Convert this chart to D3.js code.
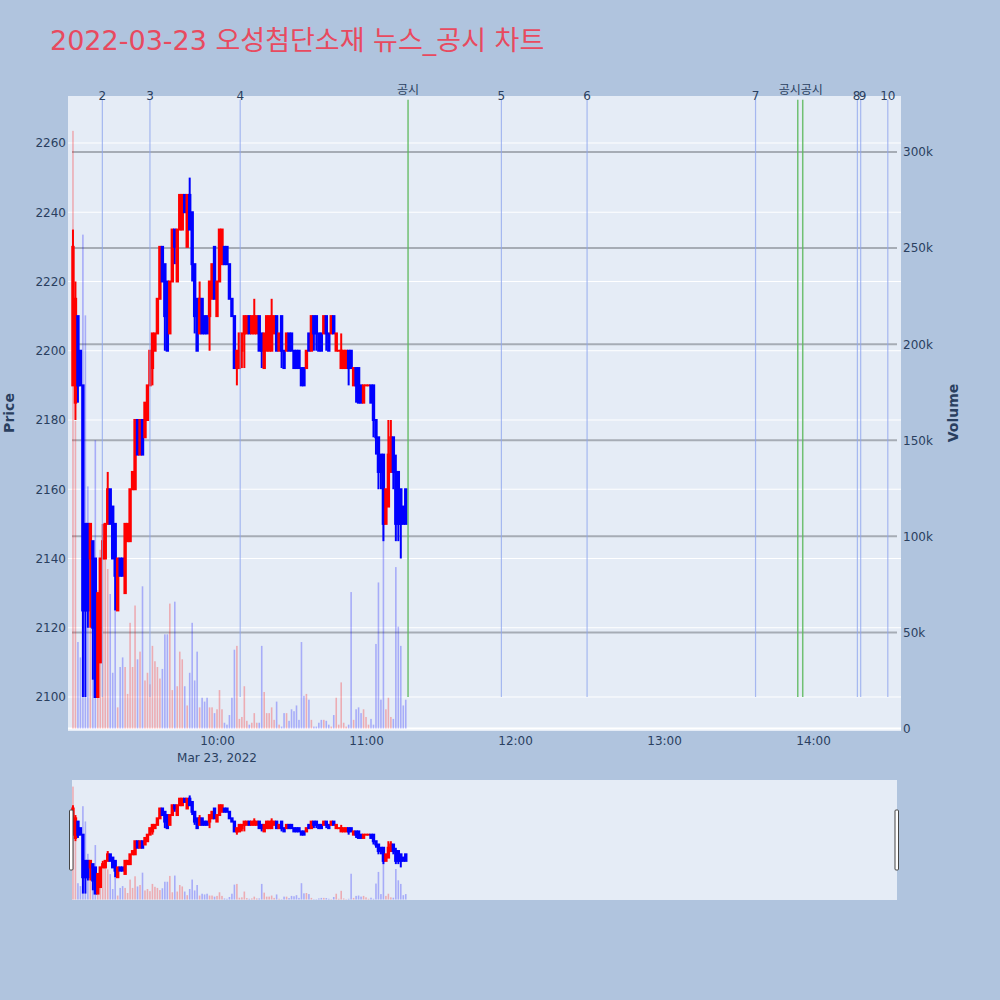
<!DOCTYPE html>
<html><head><meta charset="utf-8">
<script src="https://cdn.jsdelivr.net/npm/d3@7"></script>
<style>
body{margin:0;background:#b0c4de;}
svg{display:block;font-family:"DejaVu Sans","Noto Sans CJK KR",sans-serif;}
</style>
</head><body>
<svg id="c" width="1000" height="1000"></svg>
<script>
const times = ["09:02","09:03","09:04","09:05","09:06","09:07","09:08","09:09","09:10","09:11",
"09:12","09:13","09:14","09:15","09:16","09:17","09:18","09:19","09:20","09:21",
"09:22","09:23","09:24","09:25","09:26","09:27","09:28","09:29","09:30","09:31",
"09:32","09:33","09:34","09:35","09:36","09:37","09:38","09:39","09:40","09:41",
"09:42","09:43","09:44","09:45","09:46","09:47","09:48","09:49","09:50","09:51",
"09:52","09:53","09:54","09:55","09:56","09:57","09:58","09:59","10:00","10:01",
"10:02","10:03","10:04","10:05","10:06","10:07","10:08","10:09","10:10","10:11",
"10:12","10:13","10:14","10:15","10:16","10:17","10:18","10:19","10:20","10:21",
"10:22","10:23","10:24","10:25","10:26","10:27","10:28","10:29","10:30","10:31",
"10:32","10:33","10:34","10:35","10:36","10:37","10:38","10:39","10:40","10:41",
"10:42","10:43","10:44","10:45","10:46","10:47","10:48","10:49","10:50","10:51",
"10:52","10:53","10:54","10:55","10:56","10:57","10:58","10:59","11:00","11:01",
"11:02","11:03","11:04","11:05","11:06","11:07","11:08","11:09","11:10","11:11",
"11:12","11:13","11:14","11:15","11:16"];
const open = [2190,2185,2210,2200,2190,2150,2150,2140,2145,2140,
2100,2110,2140,2140,2150,2160,2155,2150,2125,2140,
2140,2130,2145,2145,2160,2160,2180,2170,2180,2175,
2180,2190,2195,2200,2205,2215,2230,2225,2220,2205,
2220,2235,2220,2235,2235,2245,2230,2245,2240,2225,
2215,2205,2215,2210,2210,2210,2215,2230,2210,2220,
2225,2230,2230,2225,2215,2210,2195,2195,2200,2205,
2205,2210,2205,2205,2205,2210,2205,2195,2200,2200,
2200,2205,2210,2200,2210,2200,2200,2205,2205,2200,
2200,2200,2195,2195,2195,2205,2200,2210,2210,2205,
2205,2205,2210,2205,2205,2210,2200,2200,2195,2195,
2195,2200,2200,2190,2195,2195,2190,2185,2190,2190,
2190,2190,2180,2175,2170,2170,2150,2155,2165,2175,
2165,2165,2160,2155,2160];
const high = [2235,2220,2210,2200,2190,2150,2150,2150,2145,2140,
2130,2140,2150,2150,2165,2160,2155,2150,2140,2140,
2140,2150,2150,2160,2165,2180,2180,2180,2180,2185,
2190,2200,2205,2205,2215,2230,2230,2225,2220,2220,
2235,2235,2235,2245,2245,2245,2245,2250,2240,2225,
2215,2220,2215,2210,2210,2220,2225,2230,2220,2235,
2235,2230,2230,2225,2215,2210,2200,2205,2205,2210,
2210,2210,2210,2215,2210,2210,2205,2205,2210,2210,
2215,2210,2210,2205,2210,2200,2205,2205,2205,2200,
2200,2200,2195,2195,2200,2205,2210,2210,2210,2205,
2205,2210,2210,2205,2210,2210,2205,2200,2205,2200,
2200,2200,2200,2195,2195,2195,2190,2190,2190,2190,
2190,2190,2180,2175,2170,2170,2160,2180,2180,2175,
2170,2165,2160,2155,2160];
const low = [2190,2180,2185,2190,2100,2100,2120,2120,2105,2100,
2100,2110,2140,2140,2150,2150,2140,2125,2125,2135,
2135,2130,2145,2145,2160,2160,2170,2170,2170,2175,
2180,2190,2190,2200,2205,2215,2220,2200,2200,2205,
2220,2225,2220,2235,2235,2240,2230,2235,2220,2205,
2200,2205,2205,2205,2205,2200,2215,2215,2210,2220,
2225,2225,2225,2215,2210,2195,2190,2195,2195,2195,
2205,2205,2205,2205,2205,2200,2195,2195,2200,2200,
2200,2205,2200,2200,2195,2195,2200,2200,2200,2195,
2195,2195,2190,2190,2195,2200,2200,2200,2200,2200,
2200,2205,2200,2200,2205,2205,2200,2200,2195,2195,
2195,2190,2195,2190,2185,2185,2185,2185,2190,2190,
2185,2175,2170,2160,2160,2145,2150,2155,2165,2160,
2145,2145,2140,2150,2150];
const close = [2230,2215,2190,2190,2125,2125,2125,2150,2120,2100,
2130,2140,2145,2150,2160,2150,2140,2135,2140,2135,
2135,2150,2150,2160,2165,2180,2170,2180,2170,2185,
2190,2200,2205,2205,2215,2230,2220,2210,2200,2220,
2235,2230,2235,2245,2245,2240,2245,2235,2225,2210,
2200,2215,2205,2205,2205,2220,2225,2215,2220,2235,
2235,2225,2225,2215,2210,2195,2200,2205,2205,2210,
2210,2205,2210,2210,2210,2200,2200,2205,2210,2210,
2210,2210,2200,2205,2200,2195,2205,2200,2200,2195,
2195,2195,2190,2190,2200,2200,2210,2205,2205,2200,
2200,2210,2205,2200,2210,2205,2205,2200,2200,2200,
2200,2195,2195,2195,2190,2185,2185,2190,2190,2190,
2185,2180,2175,2165,2165,2150,2160,2170,2175,2165,
2150,2150,2150,2150,2150];
const volume = [311000,160000,45000,37000,257000,215000,126000,106000,97000,150000,
72000,93000,89000,106000,83000,70000,29000,98000,11000,32000,
37000,32000,18000,55000,32000,64000,36000,40000,74000,25000,
29000,23000,43000,35000,32000,26000,31000,49000,49000,65000,
20000,66000,22000,40000,36000,22000,12000,29000,55000,25000,
40000,11000,16000,14000,16000,11000,11000,8000,10000,20000,
10000,3000,2000,7000,16000,41000,43000,5000,6000,22000,
4000,2000,3000,8000,3000,3000,43000,19000,8000,8000,
11000,4500,14000,2000,1000,8000,8000,4000,10000,9000,
12000,4500,45000,17000,18000,15000,4500,1000,1000,3000,
4500,4500,4000,2000,1000,7000,16000,2000,24000,3000,
1000,2000,71000,4500,10000,11000,8000,10000,6000,2000,
5000,2000,44000,76000,15000,130000,10000,16000,6000,5000,
84000,53000,43000,12000,15000];

const priceTicks = [2100,2120,2140,2160,2180,2200,2220,2240,2260];
const volumeTicks = [0,50000,100000,150000,200000,250000,300000];
const volumeTickLabels = ["0","50k","100k","150k","200k","250k","300k"];
const timeTicks = ["10:00","11:00","12:00","13:00","14:00"];
const newsTimes = ["09:13:50","09:33:00","10:09:20","11:16:55","11:54:30","12:29:00","13:36:50","13:53:50","13:55:50","14:17:50","14:19:10","14:30:05"];
const newsLabels = ["2","3","4","공시","5","6","7","공시","공시","8","9","10"];
const newsKinds = ["news","news","news","disc","news","news","news","disc","disc","news","news","news"];
const titleText = "2022-03-23 오성첨단소재 뉴스_공시 차트";

const day = "2022-03-23 ";
const pm = d3.timeParse("%Y-%m-%d %H:%M");
const ps = d3.timeParse("%Y-%m-%d %H:%M:%S");
const data = times.map((t,i)=>({t:pm(day+t),o:open[i],h:high[i],l:low[i],c:close[i],v:volume[i]}));

const svg = d3.select("#c");
const L=68,R=901,T=96,B=731;
const x = d3.scaleTime().domain([ps(day+"09:00:00"), ps(day+"14:35:24")]).range([L,R]);
const yP = d3.scaleLinear().domain([2090.18,2273.57]).range([B,T]);
const yV = d3.scaleLinear().domain([-1301,329140]).range([B,T]);

const RED="#ff0000", BLUE="#0000ff", TXT="#2a3f5f";
const FONT="'DejaVu Sans','Noto Sans CJK KR',sans-serif";

// title
svg.append("text").attr("x",50).attr("y",50).attr("font-size",27).attr("fill","#e84a5f")
  .attr("font-family",FONT).text(titleText);

// plot bg
svg.append("rect").attr("x",L).attr("y",T).attr("width",R-L).attr("height",B-T).attr("fill","#e5ecf6");

// price grid (white)
svg.append("g").selectAll("line").data(priceTicks).join("line")
  .attr("x1",L).attr("x2",R).attr("y1",d=>yP(d)).attr("y2",d=>yP(d))
  .attr("stroke","#fff").attr("stroke-width",1);
// volume zero line
svg.append("line").attr("x1",L).attr("x2",R).attr("y1",yV(0)).attr("y2",yV(0)).attr("stroke","#fff").attr("stroke-width",2);
// volume grid (gray)
svg.append("g").selectAll("line").data(volumeTicks.filter(d=>d>0)).join("line")
  .attr("x1",72).attr("x2",897).attr("y1",d=>yV(d)).attr("y2",d=>yV(d))
  .attr("stroke","#a6acb5").attr("stroke-width",2);

function drawCandles(g, xs, yp, yv, bw, lw){
  const cg = g.append("g");
  data.forEach(d=>{
    const col = d.c>=d.o ? RED : BLUE;
    const cx = xs(d.t);
    cg.append("line").attr("x1",cx).attr("x2",cx).attr("y1",yp(d.h)).attr("y2",yp(d.l))
      .attr("stroke",col).attr("stroke-width",lw);
    const top = yp(Math.max(d.o,d.c)), bot = yp(Math.min(d.o,d.c));
    cg.append("rect").attr("x",cx-bw/2).attr("y",top).attr("width",bw).attr("height",Math.max(0.01,bot-top))
      .attr("fill",col).attr("stroke",col).attr("stroke-width",lw);
  });
  const vg = g.append("g");
  vg.selectAll("rect").data(data).join("rect")
    .attr("x",d=>xs(d.t)-0.8).attr("width",1.6)
    .attr("y",d=>yv(d.v)).attr("height",d=>yv(0)-yv(d.v))
    .attr("fill",d=>d.c>=d.o?RED:BLUE).attr("fill-opacity",0.27);
}
drawCandles(svg, x, yP, yV, 1.4, 2);

// news lines
const ng = svg.append("g");
newsTimes.forEach((t,i)=>{
  const xx = x(ps(day+t));
  const disc = newsKinds[i]==="disc";
  ng.append("line").attr("x1",xx).attr("x2",xx).attr("y1",yP(2272.5)).attr("y2",yP(2100))
    .attr("stroke",disc?"#5cb85c":"#8fa6ee").attr("stroke-opacity",disc?0.85:0.75).attr("stroke-width",disc?1.5:1.2);
  // keep near-coincident labels side by side instead of stacked
  let anchor="middle", lx=xx;
  if (i+1<newsTimes.length && x(ps(day+newsTimes[i+1]))-xx<8) { anchor="end"; lx=xx+3; }
  else if (i>0 && xx-x(ps(day+newsTimes[i-1]))<8) { anchor="start"; lx=xx-2; }
  ng.append("text").attr("x",lx).attr("y",disc?94:100).attr("text-anchor",anchor)
    .attr("font-size",12).attr("fill",TXT).attr("font-family",FONT).text(newsLabels[i]);
});

// axes
const ax = svg.append("g").attr("transform",`translate(0,${B})`)
  .call(d3.axisBottom(x).tickValues(timeTicks.map(t=>pm(day+t))).tickFormat(d3.timeFormat("%H:%M")).tickSize(0).tickPadding(5));
ax.select(".domain").remove();
ax.selectAll("text").attr("font-size",12).attr("fill",TXT).attr("font-family",FONT);
svg.append("text").attr("x",x(pm(day+"10:00"))).attr("y",762).attr("text-anchor","middle")
  .attr("font-size",12).attr("fill",TXT).attr("font-family",FONT).text("Mar 23, 2022");

const ayl = svg.append("g").attr("transform",`translate(${L},0)`)
  .call(d3.axisLeft(yP).tickValues(priceTicks).tickSize(0).tickPadding(2).tickFormat(d3.format("d")));
ayl.select(".domain").remove();
ayl.selectAll("text").attr("font-size",12).attr("fill",TXT).attr("font-family",FONT);

const ayr = svg.append("g").attr("transform",`translate(${R},0)`)
  .call(d3.axisRight(yV).tickValues(volumeTicks).tickSize(0).tickPadding(2).tickFormat((d,i)=>volumeTickLabels[i]));
ayr.select(".domain").remove();
ayr.selectAll("text").attr("font-size",12).attr("fill",TXT).attr("font-family",FONT);

svg.append("text").attr("transform","translate(14,413) rotate(-90)").attr("text-anchor","middle")
  .attr("font-size",14).attr("font-weight","bold").attr("fill",TXT).attr("font-family",FONT).text("Price");
svg.append("text").attr("transform","translate(958,413) rotate(-90)").attr("text-anchor","middle")
  .attr("font-size",14).attr("font-weight","bold").attr("fill",TXT).attr("font-family",FONT).text("Volume");

// range slider
const SL=72,SR=897,ST=780,SB=900;
svg.append("rect").attr("x",SL).attr("y",ST).attr("width",SR-SL).attr("height",SB-ST).attr("fill","#e5ecf6");
const ySP = d3.scaleLinear().domain(yP.domain()).range([SB,ST]);
const ySV = d3.scaleLinear().domain(yV.domain()).range([SB,ST]);
drawCandles(svg, x, ySP, ySV, 1.4, 2);
[[69.5,810],[895,810]].forEach(([hx,hy])=>{
  svg.append("rect").attr("x",hx).attr("y",hy).attr("width",3.5).attr("height",60)
    .attr("fill","#fff").attr("stroke","#444").attr("stroke-width",1).attr("rx",1);
});
</script>
</body></html>
